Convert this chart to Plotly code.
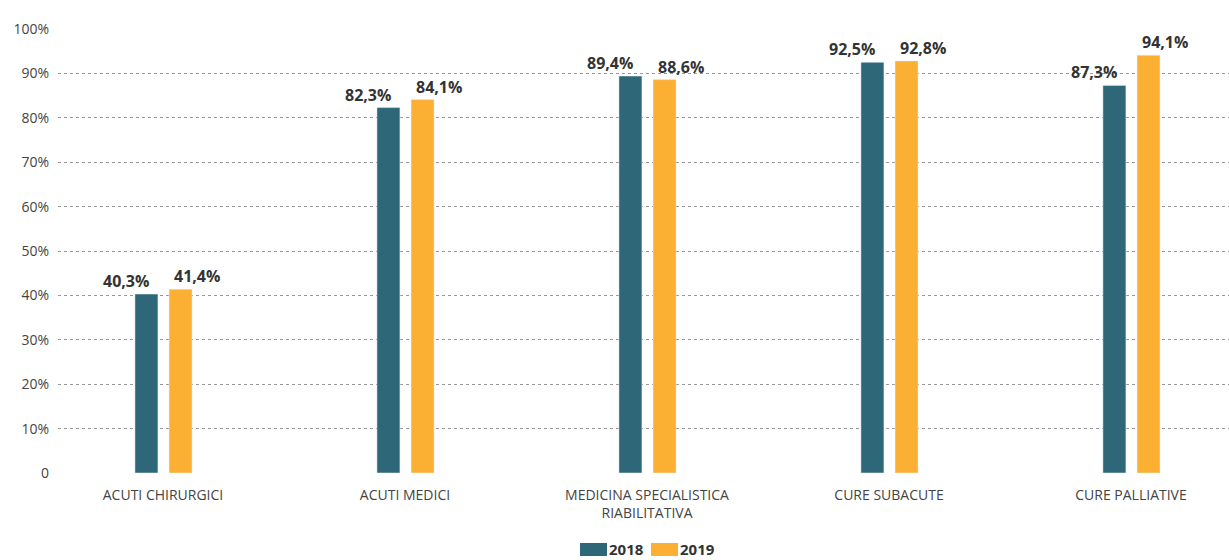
import plotly.graph_objects as go

categories = ["ACUTI CHIRURGICI", "ACUTI MEDICI", "MEDICINA SPECIALISTICA<br>RIABILITATIVA",
              "CURE SUBACUTE", "CURE PALLIATIVE"]
series_names = ["2018", "2019"]
values_2018 = [40.3, 82.3, 89.4, 92.5, 87.3]
values_2019 = [41.4, 84.1, 88.6, 92.8, 94.1]
y_ticks = [0, 10, 20, 30, 40, 50, 60, 70, 80, 90, 100]
y_tick_labels = ["0", "10%", "20%", "30%", "40%", "50%", "60%", "70%", "80%", "90%", "100%"]

C2018 = "#2E6878"
C2019 = "#FBB034"
FONT = "Open Sans"

W, H = 1229, 560
ML, MR, MT, MB = 58, 0, 29, 87
PW, PH = W - ML - MR, H - MT - MB

def px_x(px):
    return (px - ML) / PW

def px_y(py):
    return (H - MB - py) / PH

xs = list(range(len(categories)))
fig = go.Figure()
fig.add_trace(go.Bar(x=xs, y=values_2018, name=series_names[0], marker_color=C2018,
                     width=0.095, offset=-0.116, hoverinfo="y", showlegend=False))
fig.add_trace(go.Bar(x=xs, y=values_2019, name=series_names[1], marker_color=C2019,
                     width=0.095, offset=0.025, hoverinfo="y", showlegend=False))

def fmt(v):
    return f"{v:.1f}%".replace(".", ",")

for i in xs:
    fig.add_annotation(x=i, y=values_2018[i], text=f"<b>{fmt(values_2018[i])}</b>",
                       showarrow=False, yanchor="bottom", xanchor="center",
                       xshift=-37, yshift=0, font=dict(size=16, color="#333333", family=FONT))
    fig.add_annotation(x=i, y=values_2019[i], text=f"<b>{fmt(values_2019[i])}</b>",
                       showarrow=False, yanchor="bottom", xanchor="center",
                       xshift=34, yshift=0, font=dict(size=16, color="#333333", family=FONT))

# legend drawn as wide swatches with bold labels below the plot
legend_items = [(series_names[0], C2018, 580), (series_names[1], C2019, 651)]
for name, color, left in legend_items:
    fig.add_shape(type="rect", xref="paper", yref="paper",
                  x0=px_x(left), x1=px_x(left + 27), y0=px_y(556), y1=px_y(543),
                  fillcolor=color, line_width=0)
    fig.add_annotation(xref="paper", yref="paper", x=px_x(left + 28), y=px_y(549),
                       text=f"<b>{name}</b>", showarrow=False, xanchor="left", yanchor="middle",
                       borderpad=0, font=dict(size=15, color="#333333", family=FONT))

fig.update_layout(
    width=W, height=H,
    margin=dict(l=ML, r=MR, t=MT, b=MB),
    plot_bgcolor="white", paper_bgcolor="white",
    barmode="overlay",
    font=dict(family=FONT, size=14, color="#444444"),
    showlegend=False,
    xaxis=dict(range=[-0.434, 4.405], tickmode="array", tickvals=xs, ticktext=categories,
               showgrid=False, zeroline=False, showline=False, ticks="", automargin=False,
               ticklabelstandoff=12, tickfont=dict(size=14, color="#444444")),
    yaxis=dict(range=[0, 100], tickmode="array", tickvals=y_ticks, ticktext=y_tick_labels,
               showgrid=True, gridcolor="#999999", griddash="dot", gridwidth=1,
               zeroline=False, showline=False, ticks="", ticklabelstandoff=8, automargin=False,
               tickfont=dict(size=14, color="#444444")),
)

fig.write_html("out.html")
